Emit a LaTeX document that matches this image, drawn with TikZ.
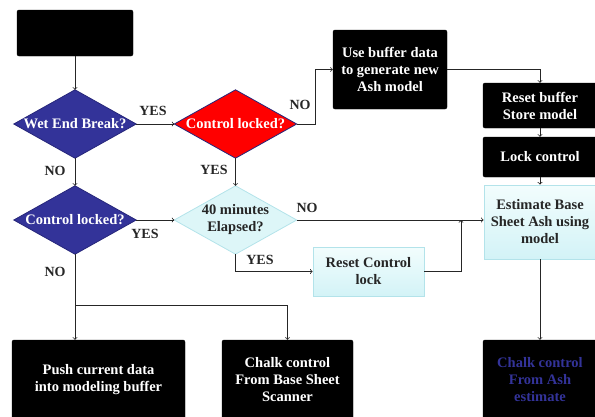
\documentclass[tikz,border=0pt]{standalone}
\usepackage{fontspec}
\setmainfont{Liberation Serif}
\definecolor{navy}{HTML}{333399}
\definecolor{navyedge}{HTML}{26267A}
\definecolor{cyanfill}{HTML}{DDF6F8}
\definecolor{cyanedge}{HTML}{B3E3EA}
\definecolor{cyantop}{HTML}{F2FDFD}
\definecolor{cyanbot}{HTML}{D3F3F7}
\newcommand{\diapath}[1]{(#1.north) -- (#1.east) -- (#1.south) -- (#1.west) -- cycle}
\tikzset{
  every node/.style={font=\fontsize{14.5}{17}\selectfont\bfseries},
  blackbox/.style={rectangle, rounded corners=2pt, fill=black, draw=black, text=white, align=center, inner sep=0pt},
  cyanbox/.style={rectangle, top color=cyantop, bottom color=cyanbot, draw=cyanedge, line width=0.8pt, text=black!85, align=center, inner sep=0pt},
  decision/.style={rectangle, inner sep=0pt, align=center, minimum width=122, minimum height=68},
  darkdia/.style={fill=navy, draw=navyedge, line width=0.8pt},
  reddia/.style={fill=red, draw=navyedge, line width=0.8pt},
  cyandia/.style={fill=cyanfill, draw=cyanedge, line width=0.8pt},
  lbl/.style={font=\fontsize{14}{16}\selectfont\bfseries, text=black!85, inner sep=0pt},
  conn/.style={line width=0.8pt, draw=black!85},
  arr/.style={conn, ->},
}
\begin{document}
\begin{tikzpicture}[x=1pt,y=-1pt]
\useasboundingbox (0,0) rectangle (595,416);
% decision frames (shapes drawn below)
\path (75,124) node[decision] (web) {};
\path (235.5,124) node[decision] (cl1) {};
\path (75,220) node[decision] (cl2) {};
\path (235.5,220) node[decision] (min) {};
\filldraw[darkdia] \diapath{web};
\filldraw[reddia] \diapath{cl1};
\filldraw[darkdia] \diapath{cl2};
\filldraw[cyandia] \diapath{min};
\node[text=white, align=center] (webt) at (web.center) {Wet End Break?};
\node[text=white, align=center] (cl1t) at (cl1.center) {Control locked?};
\node[text=white, align=center] (cl2t) at (cl2.center) {Control locked?};
\node[text=black!85, align=center] (mint) at (min.center) {40 minutes\\Elapsed?};
% boxes
\node[blackbox, minimum width=116, minimum height=46] (start) at (75,33) {};
\node[blackbox, minimum width=114, minimum height=79] (buf) at (390,69.5) {Use buffer data\\to generate new\\Ash model};
\node[blackbox, minimum width=114, minimum height=45] (reset) at (540,105.5) {Reset buffer\\Store model};
\node[blackbox, minimum width=114, minimum height=40] (lock) at (540,157) {Lock control};
\node[cyanbox, minimum width=112, minimum height=74] (est) at (540,222) {Estimate Base\\Sheet Ash using\\model};
\node[cyanbox, minimum width=111, minimum height=49] (rcl) at (368.5,271.5) {Reset Control\\lock};
\node[blackbox, minimum width=173, minimum height=80] (push) at (98.5,380) {Push current data\\into modeling buffer};
\node[blackbox, minimum width=131, minimum height=80] (chalk1) at (287.5,380) {Chalk control\\From Base Sheet\\Scanner};
\node[blackbox, minimum width=114, minimum height=80, text=navy] (chalk2) at (540,380) {Chalk control\\From Ash\\estimate};
\coordinate (j) at (461,220);
\coordinate (br) at (75,305);
% connectors
\draw[arr] (start.south) -- (web.north);
\draw[arr] (web.east) -- (cl1.west);
\draw[conn] (cl1.east) -- ++(19,0) coordinate (k);
\draw[arr] (k) |- (buf.west);
\draw[arr] (buf.east) -| (reset.north);
\draw[arr] (reset.south) -- (lock.north);
\draw[arr] (lock.south) -- (est.north);
\draw[arr] (web.south) -- (cl2.north);
\draw[arr] (cl1.south) -- (min.north);
\draw[arr] (cl2.east) -- (min.west);
\draw[arr] (min.east) -- (min.east -| est.west);
\draw[arr] (min.south) |- (rcl.west);
\draw[arr] (rcl.east) -| (j);
\draw[arr] (cl2.south) -- (cl2.south |- push.north);
\draw[arr] (br) -| (chalk1.north);
\draw[arr] (est.south) -- (chalk2.north);
% labels
\node[lbl] (l1) at (153,111) {YES};
\node[lbl] (l2) at (300,105) {NO};
\node[lbl] (l3) at (55,171) {NO};
\node[lbl] (l4) at (214,170) {YES};
\node[lbl] (l5) at (145,234) {YES};
\node[lbl] (l6) at (307,208) {NO};
\node[lbl] (l7) at (260,260) {YES};
\node[lbl] (l8) at (55,272) {NO};
\end{tikzpicture}
\end{document}
